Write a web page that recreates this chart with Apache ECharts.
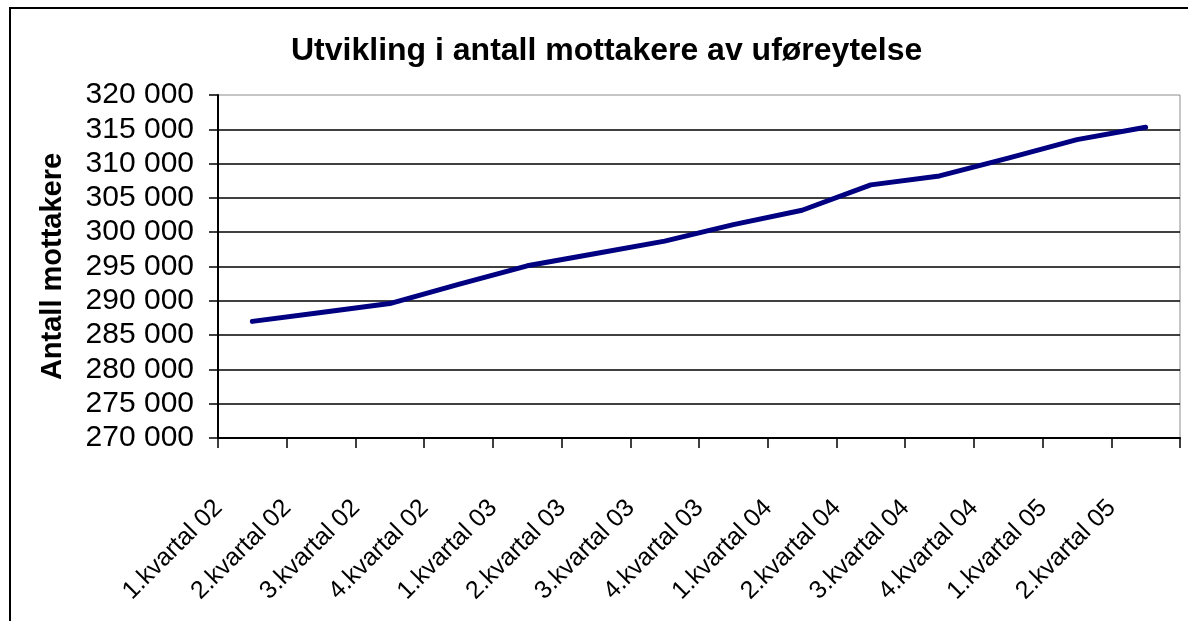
<!DOCTYPE html>
<html>
<head>
<meta charset="utf-8">
<script src="https://cdn.jsdelivr.net/npm/echarts@6/dist/echarts.min.js"></script>
<style>
  html, body { margin: 0; padding: 0; background: #fff; overflow: hidden; }
  #chart { width: 1188px; height: 621px; }
  /* ytre ramme rundt diagrammet, går ut over høyre/nedre kant */
  .frame { position: absolute; left: 9px; top: 7px; width: 1220px; height: 700px; border: 2px solid #000; pointer-events: none; }
</style>
</head>
<body>
<div id="chart"></div>
<div class="frame"></div>
<script>
const categories = [
  '1.kvartal 02', '2.kvartal 02', '3.kvartal 02', '4.kvartal 02',
  '1.kvartal 03', '2.kvartal 03', '3.kvartal 03', '4.kvartal 03',
  '1.kvartal 04', '2.kvartal 04', '3.kvartal 04', '4.kvartal 04',
  '1.kvartal 05', '2.kvartal 05'
]
const mottakere = [
  287000, 288300, 289600, 292400, 295100, 296900, 298700,
  301100, 303200, 306900, 308200, 310800, 313500, 315300
]
const yMin = 270000
const yMax = 320000
const yStep = 5000

const fmt = v => String(v).replace(/\B(?=(\d{3})+(?!\d))/g, ' ')

const chart = echarts.init(document.getElementById('chart'))
chart.setOption({
  backgroundColor: '#fff',
  animation: false,
  title: {
    text: 'Utvikling i antall mottakere av uføreytelse',
    left: 286, top: 30,
    textStyle: { fontFamily: 'Liberation Sans', fontSize: 32, fontWeight: 'bold', color: '#000' }
  },
  grid: { left: 218, top: 95, width: 962, height: 343, show: true, borderColor: '#8c8c8c', borderWidth: 1 },
  xAxis: {
    type: 'category',
    data: categories,
    axisLine: { lineStyle: { color: '#000', width: 2 } },
    axisTick: { show: true, length: 10, lineStyle: { color: '#000', width: 1.5 } },
    axisLabel: {
      rotate: 45, margin: 32, padding: [0, 48, 0, 0],
      fontFamily: 'Liberation Sans', fontSize: 25, color: '#000', interval: 0
    }
  },
  yAxis: {
    type: 'value',
    min: yMin, max: yMax, interval: yStep,
    name: 'Antall mottakere',
    nameLocation: 'middle', nameGap: 151, nameRotate: 90,
    nameTextStyle: { fontFamily: 'Liberation Sans', fontSize: 29, fontWeight: 'bold', color: '#000' },
    axisLine: { show: true, lineStyle: { color: '#000', width: 2 } },
    axisTick: { show: true, length: 9, lineStyle: { color: '#000', width: 1.5 } },
    axisLabel: { formatter: fmt, margin: 24, fontFamily: 'Liberation Sans', fontSize: 30, color: '#000' },
    splitLine: { show: true, showMaxLine: false, lineStyle: { color: '#000', width: 1.5 } }
  },
  series: [{
    type: 'line',
    data: mottakere,
    showSymbol: false,
    lineStyle: { color: '#000080', width: 5, cap: 'round', join: 'round' }
  }]
})
</script>
</body>
</html>
